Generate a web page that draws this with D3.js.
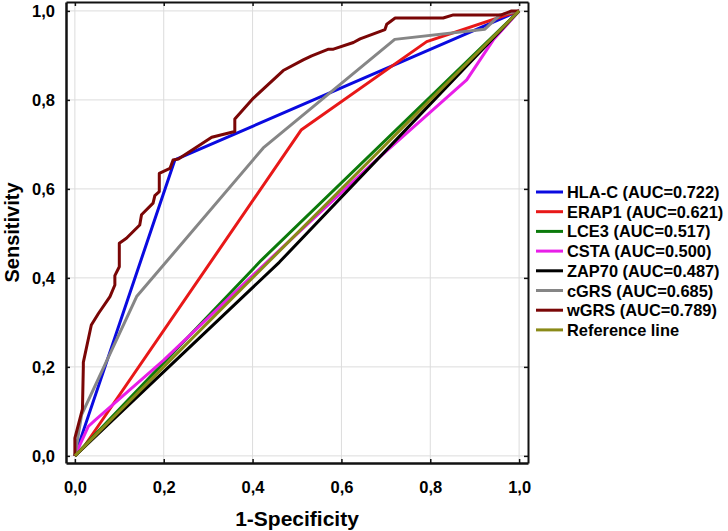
<!DOCTYPE html>
<html><head><meta charset="utf-8">
<script src="https://cdn.jsdelivr.net/npm/d3@7"></script>
<style>body{margin:0;background:#fff}svg{display:block}text{font-family:"Liberation Sans",Arial,sans-serif;font-weight:bold;fill:#000}</style>
</head><body><svg id="c" width="728" height="531"></svg>
<script>
const seriesNames = ["HLA-C (AUC=0.722)","ERAP1 (AUC=0.621)","LCE3 (AUC=0.517)","CSTA (AUC=0.500)","ZAP70 (AUC=0.487)","cGRS (AUC=0.685)","wGRS (AUC=0.789)","Reference line"];
const seriesColors = ["#0a0ae0","#e81818","#0b7a0b","#e81ee8","#000000","#868686","#7a0606","#8a8a18"];
const hlaC = [[0,0],[0.225,0.665],[1,1]];
const erap1 = [[0,0],[0.02,0.02],[0.51,0.733],[0.792,0.931],[1,1]];
const lce3 = [[0,0],[0.42,0.44],[1,1]];
const csta = [[0,0],[0.03,0.066],[0.045,0.08],[0.2,0.215],[0.44,0.443],[0.679,0.665],[0.882,0.845],[0.942,0.935],[1,1]];
const zap70 = [[0,0],[0.46,0.435],[1,1]];
const cgrs = [[0,0],[0.015,0.092],[0.139,0.358],[0.424,0.692],[0.72,0.936],[0.923,0.959],[0.957,0.991],[1,1]];
const wgrs = [[0,0],[0,0.04],[0.017,0.105],[0.019,0.2],[0.019,0.21],[0.037,0.294],[0.053,0.32],[0.079,0.358],[0.09,0.384],[0.09,0.405],[0.1,0.425],[0.1,0.478],[0.116,0.489],[0.146,0.519],[0.15,0.542],[0.176,0.568],[0.18,0.585],[0.19,0.594],[0.19,0.635],[0.214,0.646],[0.221,0.665],[0.233,0.667],[0.308,0.716],[0.36,0.729],[0.36,0.757],[0.402,0.804],[0.469,0.866],[0.514,0.89],[0.533,0.899],[0.571,0.914],[0.582,0.914],[0.627,0.929],[0.642,0.937],[0.698,0.958],[0.702,0.97],[0.721,0.984],[0.829,0.984],[0.852,0.991],[0.96,0.991],[0.983,1],[1,1]];
const refLine = [[0,0],[1,1]];
const tickValues = [0,0.2,0.4,0.6,0.8,1.0];
const tickLabels = ["0,0","0,2","0,4","0,6","0,8","1,0"];
const xTitle = "1-Specificity", yTitle = "Sensitivity";

const allSeries = [hlaC,erap1,lce3,csta,zap70,cgrs,wgrs,refLine];
const svg = d3.select("#c");
const L=66,R=528,T=2,B=463;
const x = d3.scaleLinear().domain([-0.02,1.02]).range([L,R]);
const y = d3.scaleLinear().domain([-0.016,1.02]).range([B,T]);

// grid
const g = svg.append("g");
g.selectAll(".gx").data(tickValues).join("line").attr("x1",d=>x(d)).attr("x2",d=>x(d)).attr("y1",T).attr("y2",B).attr("stroke","#dcdcdc").attr("stroke-width",1);
g.selectAll(".gy").data(tickValues).join("line").attr("class","gy").attr("y1",d=>y(d)).attr("y2",d=>y(d)).attr("x1",L).attr("x2",R).attr("stroke","#dcdcdc").attr("stroke-width",1);

// axes
const fmt = (d)=>tickLabels[tickValues.indexOf(d)];
const xAxis = svg.append("g").attr("transform",`translate(0,${B})`).call(d3.axisBottom(x).tickValues(tickValues).tickFormat(fmt).tickSizeInner(-4).tickSizeOuter(0).tickPadding(18));
const yAxis = svg.append("g").attr("transform",`translate(${L},0)`).call(d3.axisLeft(y).tickValues(tickValues).tickFormat(fmt).tickSizeInner(-4).tickSizeOuter(0).tickPadding(11));
const xTop = svg.append("g").attr("transform",`translate(0,${T})`).call(d3.axisTop(x).tickValues(tickValues).tickFormat("").tickSizeInner(-4).tickSizeOuter(0));
const yRight = svg.append("g").attr("transform",`translate(${R},0)`).call(d3.axisRight(y).tickValues(tickValues).tickFormat("").tickSizeInner(-4).tickSizeOuter(0));
[xAxis,yAxis].forEach(a=>{a.select(".domain").attr("stroke","#111").attr("stroke-width",2.5);a.selectAll("line").attr("stroke","#111").attr("stroke-width",1.5);a.selectAll("text").attr("font-size",16.5).attr("font-family","Liberation Sans").attr("font-weight","bold").attr("fill","#111");});
[xTop,yRight].forEach(a=>{a.select(".domain").attr("stroke","#111").attr("stroke-width",2);a.selectAll("line").attr("stroke","#111").attr("stroke-width",1.5);});

// curves
const line = d3.line().x(d=>x(d[0])).y(d=>y(d[1]));
svg.append("g").selectAll("path").data(allSeries).join("path").attr("d",line).attr("fill","none").attr("stroke",(d,i)=>seriesColors[i]).attr("stroke-width",3).attr("stroke-linejoin","round");

// titles
svg.append("text").attr("x",(L+R)/2).attr("y",526).attr("text-anchor","middle").attr("font-size",21).text(xTitle);
svg.append("text").attr("transform",`translate(19,${(T+B)/2}) rotate(-90)`).attr("text-anchor","middle").attr("font-size",20).text(yTitle);

// legend
const leg = svg.append("g").selectAll("g").data(seriesNames).join("g").attr("transform",(d,i)=>`translate(536,${192+i*19.7})`);
leg.append("line").attr("x1",0).attr("x2",27).attr("y1",0).attr("y2",0).attr("stroke",(d,i)=>seriesColors[i]).attr("stroke-width",3);
leg.append("text").attr("x",31).attr("y",6).attr("font-size",16.4).text(d=>d);
</script></body></html>
